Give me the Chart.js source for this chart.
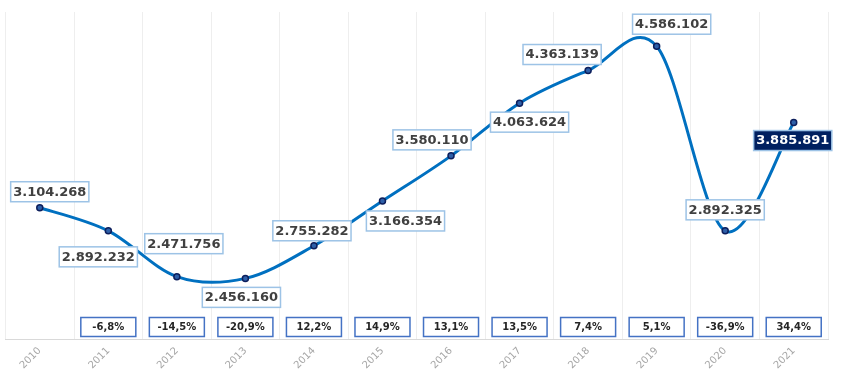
<!DOCTYPE html>
<html>
<head>
<meta charset="utf-8">
<script src="https://cdn.jsdelivr.net/npm/chart.js@4.4.1/dist/chart.umd.min.js"></script>
<style>
  html, body { margin: 0; padding: 0; background: #ffffff; }
  #wrap { width: 844px; height: 388px; position: relative; }
</style>
</head>
<body>
<div id="wrap"><canvas id="c" width="844" height="388"></canvas></div>
<script>
// ---- data ----
const years = ['2010','2011','2012','2013','2014','2015','2016','2017','2018','2019','2020','2021'];
const values = [3104268, 2892232, 2471756, 2456160, 2755282, 3166354, 3580110, 4063624, 4363139, 4586102, 2892325, 3885891];
const pctChange = [null, -6.8, -14.5, -20.9, 12.2, 14.9, 13.1, 13.5, 7.4, 5.1, -36.9, 34.4];

// ---- label placement (offsets of label box centre from its point, px) ----
const labelOffsets = [
  [10, -16], [-10, 26], [7, -33], [-4, 19], [-2, -15], [23, 20],
  [-19, -16], [10, 19], [-26, -16], [15, -22], [0, -21], [-1, 18]
];
const highlightIndex = 11;

function fmtThousands(v) {
  return String(v).replace(/\B(?=(\d{3})+(?!\d))/g, '.');
}
function fmtPct(p) {
  return p.toFixed(1).replace('.', ',') + '%';
}

// Excel-like smoothing: Catmull-Rom control points on the library's own point elements
const smoothPlugin = {
  id: 'smoothPlugin',
  beforeDatasetsDraw(chart) {
    const pts = chart.getDatasetMeta(0).data;
    const n = pts.length;
    const k = 1 / 6;
    for (let i = 0; i < n; i++) {
      const prev = pts[Math.max(0, i - 1)];
      const next = pts[Math.min(n - 1, i + 1)];
      const dx = (next.x - prev.x) * k;
      const dy = (next.y - prev.y) * k;
      pts[i].cp1x = pts[i].x - dx;
      pts[i].cp1y = pts[i].y - dy;
      pts[i].cp2x = pts[i].x + dx;
      pts[i].cp2y = pts[i].y + dy;
    }
  }
};

const labelPlugin = {
  id: 'labelPlugin',
  afterDatasetsDraw(chart) {
    const ctx = chart.ctx;
    const meta = chart.getDatasetMeta(0);
    const xs = chart.scales.x;
    const area = chart.chartArea;
    ctx.save();
    ctx.font = 'bold 13px "DejaVu Sans"';
    ctx.textAlign = 'center';
    ctx.textBaseline = 'middle';
    meta.data.forEach((pt, i) => {
      const txt = fmtThousands(values[i]);
      const w = ctx.measureText(txt).width + 5;
      const h = 20;
      const cx = pt.x + labelOffsets[i][0];
      const cy = pt.y + labelOffsets[i][1];
      const hi = i === highlightIndex;
      ctx.fillStyle = hi ? '#002060' : '#ffffff';
      ctx.fillRect(cx - w / 2, cy - h / 2, w, h);
      ctx.lineWidth = 1.5;
      ctx.strokeStyle = '#9DC3E6';
      ctx.strokeRect(cx - w / 2, cy - h / 2, w, h);
      ctx.fillStyle = hi ? '#ffffff' : '#404040';
      ctx.fillText(txt, cx, cy + 0.5);
    });
    ctx.font = 'bold 10px "DejaVu Sans"';
    pctChange.forEach((p, i) => {
      if (p === null) return;
      const cx = xs.getPixelForValue(i);
      const w = 55, h = 19;
      const cy = area.bottom - 12;
      ctx.fillStyle = '#ffffff';
      ctx.fillRect(cx - w / 2, cy - h / 2, w, h);
      ctx.lineWidth = 1.5;
      ctx.strokeStyle = '#4472C4';
      ctx.strokeRect(cx - w / 2, cy - h / 2, w, h);
      ctx.fillStyle = '#262626';
      ctx.fillText(fmtPct(p), cx, cy + 0.5);
    });
    ctx.restore();
  }
};

new Chart(document.getElementById('c'), {
  type: 'line',
  data: {
    labels: years,
    datasets: [{
      data: values,
      borderColor: '#0070C0',
      borderWidth: 3,
      tension: 0.4,
      fill: false,
      pointRadius: 3,
      pointBackgroundColor: '#2E5FA8',
      pointBorderColor: '#0D1F5C',
      pointBorderWidth: 1.5
    }]
  },
  options: {
    responsive: false,
    animation: false,
    devicePixelRatio: 1,
    layout: { padding: { left: 5, right: 16, top: 12, bottom: 0 } },
    plugins: { legend: { display: false }, tooltip: { enabled: false } },
    scales: {
      x: {
        offset: true,
        grid: { color: '#EEEEEE', lineWidth: 1, drawTicks: false, offset: true },
        border: { display: true, color: '#D9D9D9', width: 1 },
        ticks: {
          color: '#A6A6A6',
          font: { family: '"DejaVu Sans"', size: 10 },
          minRotation: 45, maxRotation: 45, padding: 6
        },
        afterFit(scale) { scale.height = 49; }
      },
      y: {
        display: false,
        min: 1900000,
        max: 4900000
      }
    }
  },
  plugins: [smoothPlugin, labelPlugin]
});
</script>
</body>
</html>
